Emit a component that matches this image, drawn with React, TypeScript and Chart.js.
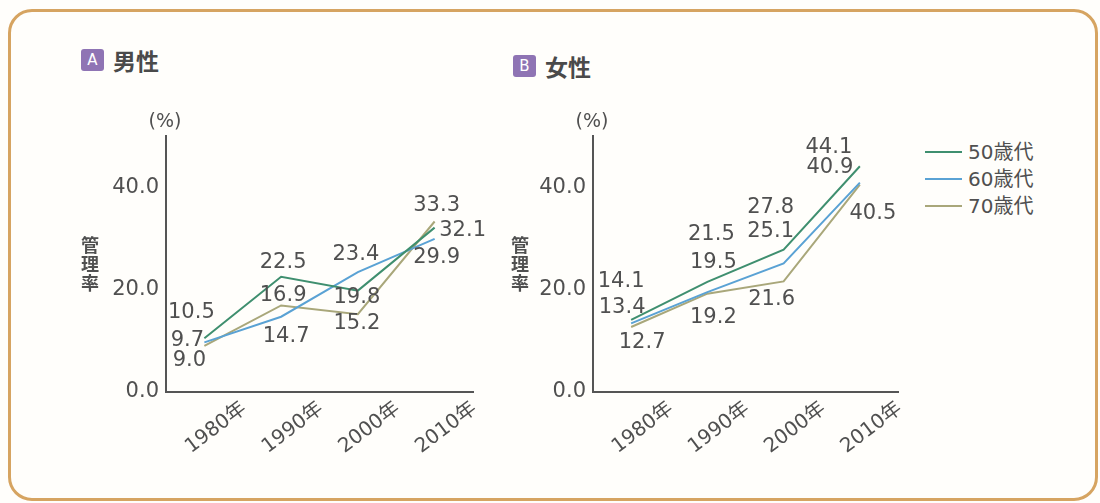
import React, { useEffect, useRef } from "react";
import { Chart, registerables } from "chart.js";
Chart.register(...registerables);

// ---- data ----
const categories = ["1980年", "1990年", "2000年", "2010年"];
const seriesNames = ["50歳代", "60歳代", "70歳代"];
const male50 = [10.5, 22.5, 19.8, 32.1];
const male60 = [9.7, 14.7, 23.4, 29.9];
const male70 = [9.0, 16.9, 15.2, 33.3];
const female50 = [14.1, 21.5, 27.8, 44.1];
const female60 = [13.4, 19.5, 25.1, 40.9];
const female70 = [12.7, 19.2, 21.6, 40.5];
const yTicks = [0, 20, 40];
const yMax = 50;

// ---- styles ----
const seriesColors = ["#3f8f6f", "#5aa2d4", "#a9a77a"];
const FONT = '"DejaVu Sans", "Noto Sans CJK JP", sans-serif';
const CJK = '"Noto Sans CJK JP", "DejaVu Sans", sans-serif';
const TEXT = "#505050";

// label offsets (px) relative to each point
const maleLabelDX = [[-13, 2, -1, 28], [-17, 5, -2, 2], [-15, 2, -1, 2]];
const maleLabelDY = [[-26, -14, 7, 3], [-2, 20, -18, 19], [15, -10, 9, -16]];
const femaleLabelDX = [[-10, 4, -13, -31], [-9, 6, -13, -30], [11, 6, -12, 13]];
const femaleLabelDY = [[-38, -47, -42, -19], [-16, -30, -32, -15], [16, 24, 18, 29]];

function makePlugin(dx: number[][], dy: number[][], titleDX: number) {
  return {
    id: "decor",
    afterDatasetsDraw(chart: any) {
      const ctx = chart.ctx;
      const ca = chart.chartArea;
      ctx.save();
      ctx.fillStyle = TEXT;
      ctx.textAlign = "center";
      ctx.textBaseline = "middle";
      ctx.font = "21px " + FONT;
      chart.data.datasets.forEach((ds: any, i: number) => {
        const meta = chart.getDatasetMeta(i);
        meta.data.forEach((p: any, j: number) => {
          const v = ds.data[j];
          ctx.fillText(v.toFixed(1), p.x + dx[i][j], p.y + dy[i][j]);
        });
      });
      ctx.font = "19px " + FONT;
      ctx.fillText("(%)", ca.left - 1, ca.top - 14);
      ctx.font = "bold 18px " + CJK;
      const chars = ["管", "理", "率"];
      chars.forEach((c, k) => {
        ctx.fillText(c, ca.left + titleDX, ca.bottom - 147 + k * 19);
      });
      ctx.restore();
    },
  };
}

function LineChart(props: {
  series: number[][];
  dx: number[][];
  dy: number[][];
  width: number;
  height: number;
  padRight: number;
  yWidth: number;
  titleDX: number;
}) {
  const ref = useRef<HTMLCanvasElement>(null);
  useEffect(() => {
    if (!ref.current) return;
    const chart = new Chart(ref.current, {
      type: "line",
      data: {
        labels: categories,
        datasets: props.series.map((s, i) => ({
          label: seriesNames[i],
          data: s,
          borderColor: seriesColors[i],
          backgroundColor: seriesColors[i],
          borderWidth: 2,
          pointRadius: 0,
          tension: 0,
        })),
      },
      options: {
        responsive: false,
        animation: false,
        devicePixelRatio: 1,
        layout: { padding: { left: 0, top: 36, right: props.padRight, bottom: 0 } },
        plugins: { legend: { display: false }, tooltip: { enabled: false } },
        scales: {
          x: {
            type: "category",
            offset: true,
            grid: { display: false, drawTicks: false },
            border: { display: true, color: "#555", width: 2 },
            ticks: {
              color: TEXT,
              font: { family: FONT, size: 20 },
              minRotation: 37,
              maxRotation: 37,
              autoSkip: false,
              labelOffset: 40,
              padding: 5,
            },
            afterFit: (scale: any) => {
              scale.height = props.height - 36 - 256;
            },
          },
          y: {
            type: "linear",
            min: 0,
            max: yMax,
            grid: { display: false, drawTicks: false },
            border: { display: true, color: "#555", width: 2 },
            afterBuildTicks: (scale: any) => {
              scale.ticks = yTicks.map((v) => ({ value: v }));
            },
            ticks: {
              color: TEXT,
              font: { family: FONT, size: 21 },
              padding: 7,
              callback: (v: any) => Number(v).toFixed(1),
            },
            afterFit: (scale: any) => {
              scale.width = props.yWidth;
            },
          },
        },
      },
      plugins: [makePlugin(props.dx, props.dy, props.titleDX)],
    } as any);
    return () => chart.destroy();
  }, []);
  return <canvas ref={ref} width={props.width} height={props.height} style={{ display: "block" }} />;
}

function Title(props: { letter: string; text: string; left: number; top: number }) {
  return (
    <div style={{ position: "absolute", left: props.left, top: props.top, display: "flex", alignItems: "center" }}>
      <div
        style={{
          width: 23,
          height: 22,
          background: "#8f74b4",
          borderRadius: 3,
          color: "#fff",
          fontFamily: FONT,
          fontSize: 15,
          lineHeight: "22px",
          textAlign: "center",
        }}
      >
        {props.letter}
      </div>
      <div style={{ marginLeft: 9, fontFamily: CJK, fontWeight: 700, fontSize: 23, color: "#4a4a4a", lineHeight: "22px" }}>
        {props.text}
      </div>
    </div>
  );
}

export default function App() {
  return (
    <div
      style={{
        position: "absolute",
        left: 0,
        top: 0,
        width: 1100,
        height: 503,
        background: "#fffefb",
        overflow: "hidden",
      }}
    >
      <div
        style={{
          position: "absolute",
          left: 8,
          top: 9,
          width: 1090,
          height: 492,
          boxSizing: "border-box",
          border: "3px solid #d6a461",
          borderRadius: 24,
        }}
      />
      <Title letter="A" text="男性" left={81} top={49} />
      <Title letter="B" text="女性" left={513} top={55} />
      <div style={{ position: "absolute", left: 60, top: 100 }}>
        <LineChart
          series={[male50, male60, male70]}
          dx={maleLabelDX}
          dy={maleLabelDY}
          width={440}
          height={380}
          padRight={27}
          yWidth={106}
          titleDX={-76}
        />
      </div>
      <div style={{ position: "absolute", left: 500, top: 100 }}>
        <LineChart
          series={[female50, female60, female70]}
          dx={femaleLabelDX}
          dy={femaleLabelDY}
          width={420}
          height={380}
          padRight={22}
          yWidth={93}
          titleDX={-73}
        />
      </div>
      <div style={{ position: "absolute", left: 925, top: 138 }}>
        {seriesNames.map((n, i) => (
          <div key={n} style={{ display: "flex", alignItems: "center", height: 27 }}>
            <div style={{ width: 37, height: 2, background: seriesColors[i] }} />
            <div style={{ marginLeft: 6, fontFamily: FONT, fontSize: 20, color: TEXT, lineHeight: "24px" }}>{n}</div>
          </div>
        ))}
      </div>
    </div>
  );
}
